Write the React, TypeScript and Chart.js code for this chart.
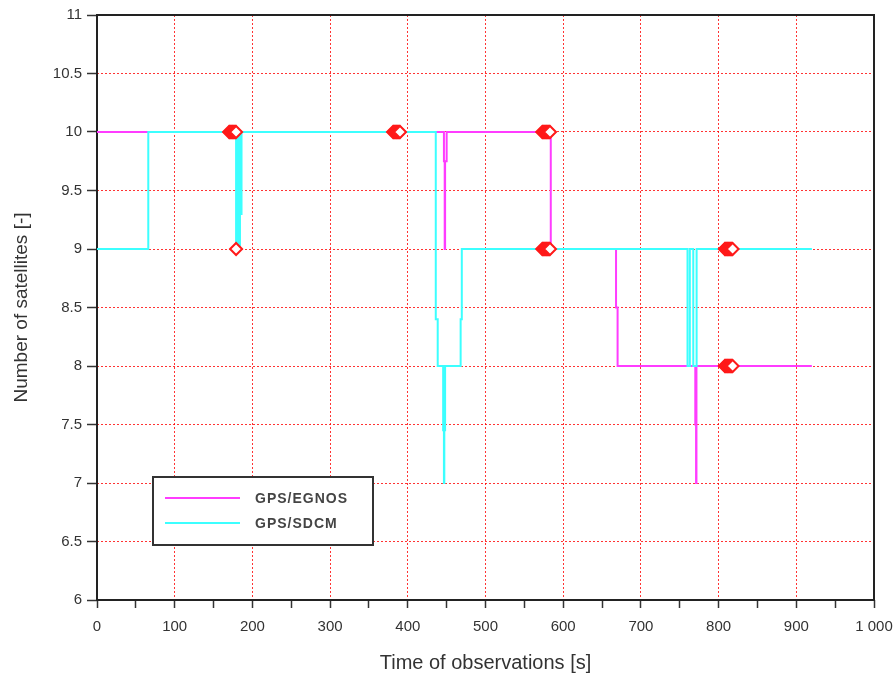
import React, { useEffect, useRef } from 'react';
import { Chart, registerables } from 'chart.js';

Chart.register(...registerables);

// ---- Data (time in s -> number of satellites, change events) ----
const egnosTimes = [0, 446.5, 447.5, 448, 450, 584, 668, 670, 770, 771, 771.5, 920];
const egnosValues = [10, 9.75, 9, 9.75, 10, 9, 8.5, 8, 7.5, 7, 8, 8];

const sdcmTimes = [0, 66, 179, 180, 181, 182, 183, 184, 185, 186, 436, 438.5, 445.5, 446.5, 447, 448, 468, 469.5, 760, 763, 767.4, 771.7, 920];
const sdcmValues = [9, 10, 9, 10, 9, 10, 9, 10, 9.3, 10, 8.4, 8, 7.45, 7, 7.45, 8, 8.4, 9, 8, 9, 8, 9, 9];

const markerTimes = [
  170, 171, 172, 173, 174, 175, 176, 177, 178, 179,
  179,
  381, 382, 383, 384, 385, 386, 387, 388, 389, 390,
  573, 574, 575, 576, 577, 578, 579, 580, 581, 582, 583,
  573, 574, 575, 576, 577, 578, 579, 580, 581, 582, 583,
  808, 809, 810, 811, 812, 813, 814, 815, 816, 817, 818,
  808, 809, 810, 811, 812, 813, 814, 815, 816, 817, 818,
];
const markerValues = [
  10, 10, 10, 10, 10, 10, 10, 10, 10, 10,
  9,
  10, 10, 10, 10, 10, 10, 10, 10, 10, 10,
  10, 10, 10, 10, 10, 10, 10, 10, 10, 10, 10,
  9, 9, 9, 9, 9, 9, 9, 9, 9, 9, 9,
  9, 9, 9, 9, 9, 9, 9, 9, 9, 9, 9,
  8, 8, 8, 8, 8, 8, 8, 8, 8, 8, 8,
];

const seriesLabels = ['GPS/EGNOS', 'GPS/SDCM'];
const xTitle = 'Time of observations [s]';
const yTitle = 'Number of satellites [-]';

const MAGENTA = '#ff3cff';
const CYAN = '#3cffff';
const FONT = "'Liberation Sans', Arial, sans-serif";
const TEXT = '#333333';

const toPoints = (xs: number[], ys: number[]) => xs.map((x, i) => ({ x, y: ys[i] }));
const fmtThousands = (v: number) => String(v).replace(/\B(?=(\d{3})+(?!\d))/g, ' ');

const framePlugin = {
  id: 'frame',
  beforeDatasetsDraw(chart: any) {
    const { ctx, chartArea: a } = chart;
    ctx.save();
    ctx.strokeStyle = '#222';
    ctx.lineWidth = 2;
    ctx.strokeRect(a.left, a.top, a.right - a.left, a.bottom - a.top);
    ctx.restore();
  },
};

const legendPlugin = {
  id: 'boxLegend',
  afterDraw(chart: any) {
    const ctx = chart.ctx;
    const items = [
      { label: seriesLabels[0], color: MAGENTA },
      { label: seriesLabels[1], color: CYAN },
    ];
    const bx = 153, by = 477, bw = 220, bh = 68;
    ctx.save();
    ctx.fillStyle = '#fff';
    ctx.fillRect(bx, by, bw, bh);
    ctx.strokeStyle = '#333';
    ctx.lineWidth = 2;
    ctx.strokeRect(bx, by, bw, bh);
    items.forEach((it, i) => {
      const y = by + 21 + i * 25;
      ctx.strokeStyle = it.color;
      ctx.lineWidth = 2;
      ctx.beginPath();
      ctx.moveTo(bx + 12, y);
      ctx.lineTo(bx + 87, y);
      ctx.stroke();
      ctx.fillStyle = '#444';
      ctx.font = `bold 14px ${FONT}`;
      (ctx as any).letterSpacing = '1px';
      ctx.textBaseline = 'middle';
      ctx.textAlign = 'left';
      ctx.fillText(it.label, bx + 102, y + 1);
    });
    ctx.restore();
  },
};

export default function App() {
  const ref = useRef<HTMLCanvasElement>(null);
  useEffect(() => {
    const canvas = ref.current!;
    const chart = new Chart(canvas, {
      type: 'line',
      data: {
        datasets: [
          {
            label: seriesLabels[1],
            data: toPoints(sdcmTimes, sdcmValues),
            borderColor: CYAN,
            borderWidth: 2,
            pointRadius: 0,
            stepped: true,
            fill: false,
            order: 1,
          },
          {
            label: seriesLabels[0],
            data: toPoints(egnosTimes, egnosValues),
            borderColor: MAGENTA,
            borderWidth: 2,
            pointRadius: 0,
            stepped: true,
            fill: false,
            order: 2,
          },
          {
            label: 'marks',
            data: toPoints(markerTimes, markerValues),
            showLine: false,
            pointStyle: 'rectRot',
            pointRadius: 6,
            pointBorderColor: '#ff1a1a',
            pointBackgroundColor: '#ffffff',
            pointBorderWidth: 2,
            order: 0,
          },
        ],
      } as any,
      options: {
        animation: false,
        responsive: false,
        devicePixelRatio: 1,
        layout: { padding: { top: 15, right: 0, left: 0, bottom: 0 } },
        plugins: { legend: { display: false }, tooltip: { enabled: false } },
        scales: {
          x: {
            type: 'linear',
            min: 0,
            max: 1000,
            afterFit: (s: any) => { s.height = 79; s.paddingRight = 22; s.paddingLeft = 0; },
            ticks: {
              stepSize: 50,
              autoSkip: false,
              maxRotation: 0,
              padding: 10,
              color: TEXT,
              font: { family: FONT, size: 15 },
              callback: (v: any) => (Number(v) % 100 === 0 ? fmtThousands(Number(v)) : ''),
            },
            grid: {
              color: (c: any) => (c.tick && c.tick.value % 100 === 0 ? 'rgba(255,0,0,0.8)' : 'rgba(0,0,0,0)'),
              lineWidth: 1,
              borderDash: [2, 2],
              tickColor: '#333',
              tickLength: 8,
              tickWidth: 1.5,
              tickBorderDash: [],
            },
            border: { display: false, dash: [2, 2] },
            title: {
              display: true,
              text: xTitle,
              color: TEXT,
              font: { family: FONT, size: 20 },
              padding: { top: 0, bottom: 4 },
            },
          },
          y: {
            type: 'linear',
            min: 6,
            max: 11,
            afterFit: (s: any) => { s.width = 97; },
            ticks: {
              stepSize: 0.5,
              padding: 5,
              color: TEXT,
              font: { family: FONT, size: 15 },
              callback: (v: any) => String(v),
            },
            grid: {
              color: 'rgba(255,0,0,0.8)',
              lineWidth: 1,
              borderDash: [2, 2],
              tickColor: '#333',
              tickLength: 10,
              tickWidth: 1.5,
              tickBorderDash: [],
            },
            border: { display: false, dash: [2, 2] },
            title: {
              display: true,
              text: yTitle,
              color: TEXT,
              font: { family: FONT, size: 19 },
              padding: { top: 10, bottom: 0 },
            },
          },
        },
      } as any,
      plugins: [framePlugin, legendPlugin],
    });
    return () => chart.destroy();
  }, []);
  return (
    <div style={{ position: 'fixed', left: 0, top: 0, width: 896, height: 679, background: '#fff' }}>
      <canvas ref={ref} width={896} height={679} style={{ display: 'block' }} />
    </div>
  );
}
